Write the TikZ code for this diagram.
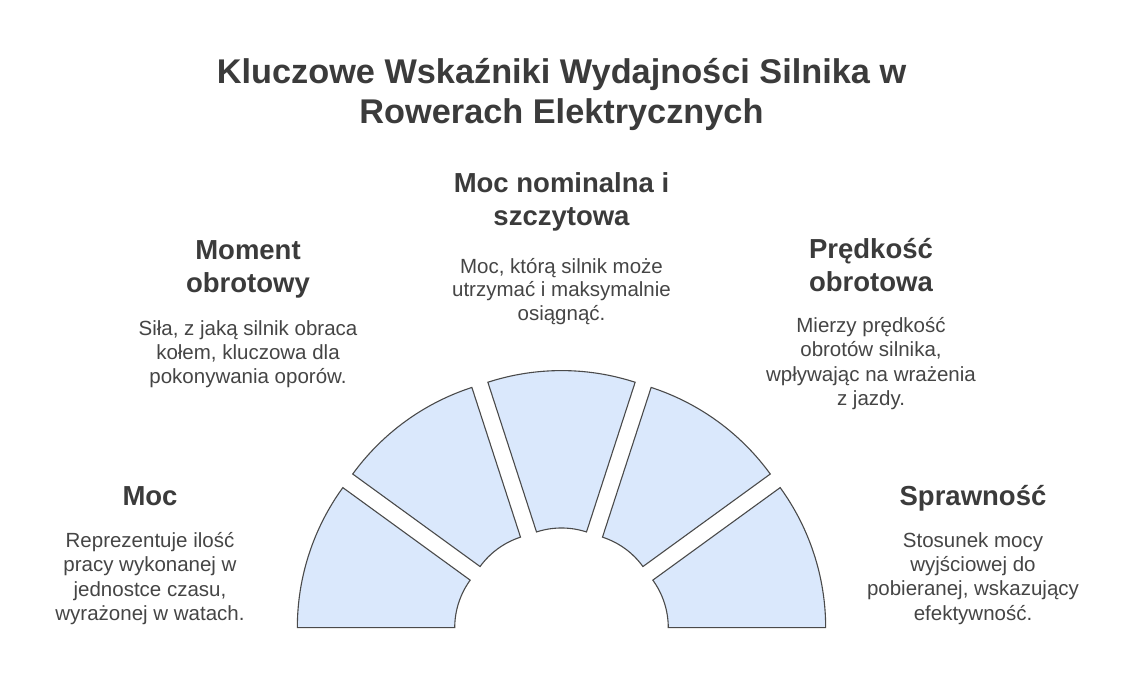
\documentclass[tikz,border=0pt]{standalone}
\usepackage{fontspec}
\setmainfont{Liberation Sans}
\usetikzlibrary{calc}
\definecolor{segfill}{HTML}{DAE8FC}
\definecolor{segline}{HTML}{4A4A4A}
\definecolor{headc}{HTML}{3B3B3B}
\definecolor{descc}{HTML}{454545}
\tikzset{
  seg/.style={fill=segfill, draw=segline, line width=1.1pt, line join=miter},
  titletext/.style={align=center, text=headc, font=\fontsize{34.3}{39.5}\selectfont\bfseries, inner sep=0pt},
  headtext/.style={align=center, text=headc, font=\fontsize{27.5}{33}\selectfont\bfseries, inner sep=0pt},
  desctext/.style={align=center, text=descc, font=\fontsize{20.5}{23.8}\selectfont, inner sep=0pt},
  desclong/.style={desctext, font=\fontsize{20.5}{24.2}\selectfont},
}
\begin{document}
\begin{tikzpicture}[x=1pt,y=1pt]
\useasboundingbox (0,0) rectangle (1124,695);
\fill[white] (0,0) rectangle (1124,695);
\coordinate (C) at (561.5,58.9);
\foreach \a in {18,54,90,126,162}{
  \begin{scope}[shift={($(C)+(\a:27.2)$)}]
    \draw[seg] (\a-18:238.3) arc[start angle=\a-18, end angle=\a+18, radius=238.3]
      -- (\a+18:80.9) arc[start angle=\a+18, end angle=\a-18, radius=80.9] -- cycle;
  \end{scope}
}
\node[titletext] (title) at (561.5,600.5) {Kluczowe Wskaźniki Wydajności Silnika w\\Rowerach Elektrycznych};
\node[headtext] (h3) at (561.5,493) {Moc nominalna i\\szczytowa};
\node[desctext] (d3) at (561.5,403.5) {Moc, którą silnik może\\utrzymać i maksymalnie\\osiągnąć.};
\node[headtext] (h2) at (248,426) {Moment\\obrotowy};
\node[desctext] (d2) at (248,341) {Siła, z jaką silnik obraca\\kołem, kluczowa dla\\pokonywania oporów.};
\node[headtext] (h4) at (871,430) {Prędkość\\obrotowa};
\node[desclong] (d4) at (871,331.5) {Mierzy prędkość\\obrotów silnika,\\wpływając na wrażenia\\z jazdy.};
\node[headtext] (h1) at (150,199) {Moc};
\node[desclong] (d1) at (150,116.5) {Reprezentuje ilość\\pracy wykonanej w\\jednostce czasu,\\wyrażonej w watach.};
\node[headtext] (h5) at (973,197) {Sprawność};
\node[desclong] (d5) at (973,116.5) {Stosunek mocy\\wyjściowej do\\pobieranej, wskazujący\\efektywność.};
\end{tikzpicture}
\end{document}
